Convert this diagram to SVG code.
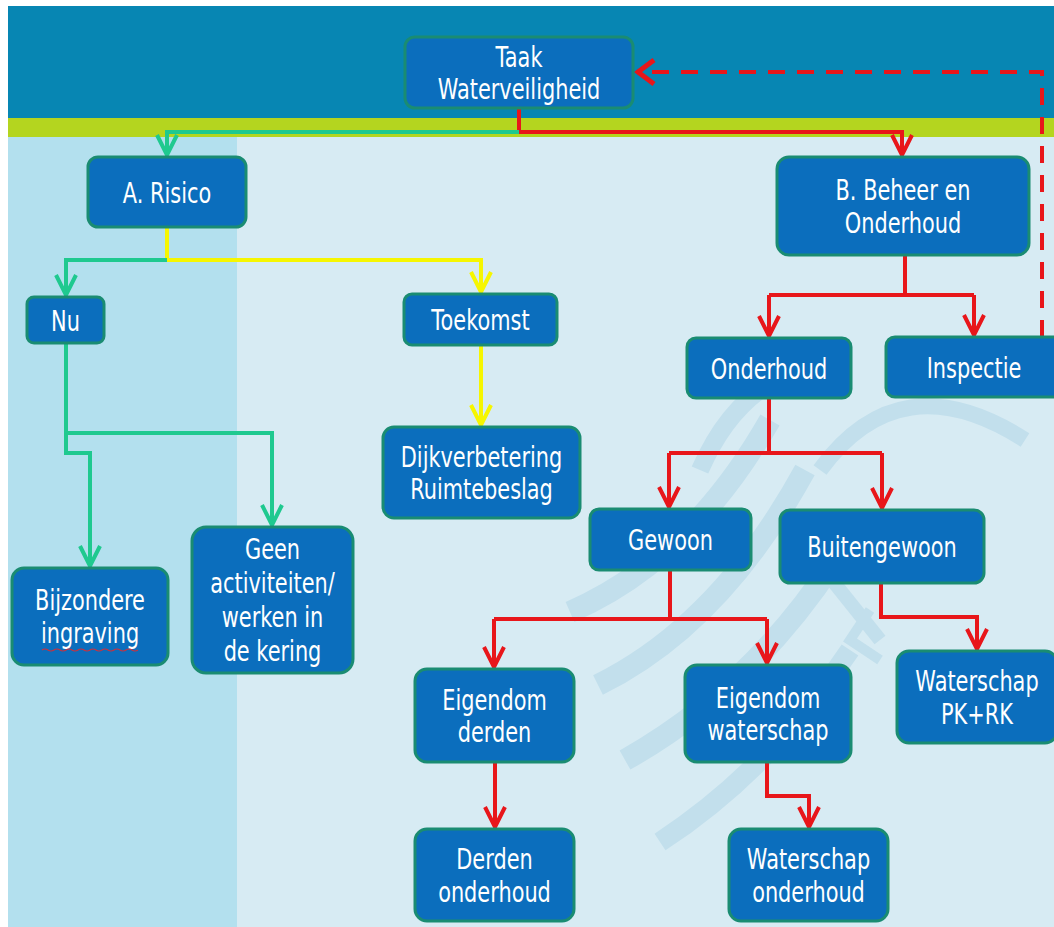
<svg xmlns="http://www.w3.org/2000/svg" width="1054" height="927" viewBox="0 0 1054 927">
<style>
.node rect{fill:#0B6EBD;stroke:#1A8C72;stroke-width:3}
.t{font-family:"DejaVu Sans","Liberation Sans",sans-serif;font-size:29px;fill:#FFFFFF;text-anchor:middle}
.c{fill:none;stroke-width:4;stroke-linejoin:miter}
.red{stroke:#E8161A}
.grn{stroke:#1FC98F}
.yel{stroke:#F6F600}
.wm{fill:none;stroke:#C2DFEC;stroke-linecap:butt}
</style>
<defs>
<marker id="ar" markerUnits="userSpaceOnUse" markerWidth="30" markerHeight="30" refX="0" refY="0" viewBox="-24 -15 30 30" orient="auto" overflow="visible"><path d="M-20,-10 L0,0 L-20,10" fill="none" stroke="#E8161A" stroke-width="4"/></marker>
<marker id="ag" markerUnits="userSpaceOnUse" markerWidth="30" markerHeight="30" refX="0" refY="0" viewBox="-24 -15 30 30" orient="auto" overflow="visible"><path d="M-20,-10 L0,0 L-20,10" fill="none" stroke="#1FC98F" stroke-width="4"/></marker>
<marker id="ay" markerUnits="userSpaceOnUse" markerWidth="30" markerHeight="30" refX="0" refY="0" viewBox="-24 -15 30 30" orient="auto" overflow="visible"><path d="M-20,-10 L0,0 L-20,10" fill="none" stroke="#F6F600" stroke-width="4"/></marker>
<marker id="ad" markerUnits="userSpaceOnUse" markerWidth="30" markerHeight="30" refX="0" refY="0" viewBox="-24 -15 30 30" orient="auto" overflow="visible"><path d="M-16,-12 L0,0 L-16,12" fill="none" stroke="#E8161A" stroke-width="5"/></marker>
</defs>

<g id="background">
<rect x="0" y="0" width="1054" height="927" fill="#FFFFFF"/>
<rect x="8" y="6" width="1046" height="112" fill="#0786B3"/>
<rect x="8" y="118" width="1046" height="19" fill="#B4D51F"/>
<rect x="8" y="137" width="1046" height="790" fill="#D7EBF3"/>
<rect x="8" y="137" width="229" height="790" fill="#B3E0EE"/>
<path class="wm" stroke-width="16" d="M820,470 Q900,360 1025,440"/>
<path class="wm" stroke-width="18" d="M700,470 Q735,390 800,370"/>
<path class="wm" stroke-width="22" d="M570,612 Q690,560 770,420"/>
<path class="wm" stroke-width="22" d="M598,685 Q720,625 805,470"/>
<path class="wm" stroke-width="22" d="M625,760 Q750,690 835,560"/>
<path class="wm" stroke-width="20" d="M660,842 Q770,770 850,650"/>
<path class="wm" stroke-width="14" d="M800,540 L880,640"/>
<path class="wm" stroke-width="10" d="M870,610 L850,640 L880,660"/>
</g>

<g id="connectors">
<path class="c red" d="M519,108 V132 H902 V155" marker-end="url(#ar)"/>
<path class="c grn" d="M519,132 H167 V155" marker-end="url(#ag)"/>
<path class="c yel" d="M167,227 V260"/>
<path class="c grn" d="M167,260 H66 V295" marker-end="url(#ag)"/>
<path class="c yel" d="M167,260 H481 V292" marker-end="url(#ay)"/>
<path class="c yel" d="M481,345 V425" marker-end="url(#ay)"/>
<path class="c grn" d="M66,343 V433 H272 V525" marker-end="url(#ag)"/>
<path class="c grn" d="M66,433 V453 H90 V566" marker-end="url(#ag)"/>
<path class="c red" d="M905,255 V295"/>
<path class="c red" d="M769,295 H974"/>
<path class="c red" d="M769,295 V336" marker-end="url(#ar)"/>
<path class="c red" d="M974,295 V335" marker-end="url(#ar)"/>
<path class="c red" d="M769,398 V453"/>
<path class="c red" d="M669,453 H882"/>
<path class="c red" d="M669,453 V507" marker-end="url(#ar)"/>
<path class="c red" d="M882,453 V508" marker-end="url(#ar)"/>
<path class="c red" d="M670,570 V618"/>
<path class="c red" d="M494,619 H767"/>
<path class="c red" d="M494,619 V667" marker-end="url(#ar)"/>
<path class="c red" d="M767,619 V663" marker-end="url(#ar)"/>
<path class="c red" d="M881,583 V617 H977 V649" marker-end="url(#ar)"/>
<path class="c red" d="M495,762 V827" marker-end="url(#ar)"/>
<path class="c red" d="M767,762 V796 H809 V827" marker-end="url(#ar)"/>
<path class="c red" d="M1042,337 V72 H638" stroke-width="5" stroke-dasharray="17 12" marker-end="url(#ad)"/>
</g>

<g id="n-taak" class="node"><rect x="405" y="37" width="228" height="71" rx="10"/><text class="t" transform="translate(519,66.5) scale(0.72,1)"><tspan x="0">Taak</tspan><tspan x="0" dy="33">Waterveiligheid</tspan></text></g>
<g id="n-risico" class="node"><rect x="88" y="157" width="158" height="70" rx="10"/><text class="t" transform="translate(167,202.5) scale(0.72,1)">A. Risico</text></g>
<g id="n-beheer" class="node"><rect x="777" y="157" width="252" height="98" rx="12"/><text class="t" transform="translate(903,200) scale(0.72,1)"><tspan x="0">B. Beheer en</tspan><tspan x="0" dy="33">Onderhoud</tspan></text></g>
<g id="n-nu" class="node"><rect x="27" y="297" width="77" height="46" rx="7"/><text class="t" transform="translate(65.5,330.5) scale(0.72,1)">Nu</text></g>
<g id="n-toekomst" class="node"><rect x="404" y="294" width="153" height="51" rx="8"/><text class="t" transform="translate(480.5,330) scale(0.72,1)">Toekomst</text></g>
<g id="n-onderhoud" class="node"><rect x="687" y="338" width="164" height="60" rx="9"/><text class="t" transform="translate(769,378.5) scale(0.72,1)">Onderhoud</text></g>
<g id="n-inspectie" class="node"><rect x="886" y="337" width="176" height="60" rx="9"/><text class="t" transform="translate(974,377.5) scale(0.72,1)">Inspectie</text></g>
<g id="n-dijk" class="node"><rect x="383" y="427" width="197" height="91" rx="11"/><text class="t" transform="translate(481.5,466.5) scale(0.72,1)"><tspan x="0">Dijkverbetering</tspan><tspan x="0" dy="33">Ruimtebeslag</tspan></text></g>
<g id="n-bijzondere" class="node"><rect x="12" y="568" width="156" height="97" rx="12"/><text class="t" transform="translate(90,610) scale(0.72,1)"><tspan x="0">Bijzondere</tspan><tspan x="0" dy="33">ingraving</tspan></text><path d="M42,650 q3,-2 6,0 t6,0 t6,0 t6,0 t6,0 t6,0 t6,0 t6,0 t6,0 t6,0 t6,0 t6,0 t6,0 t6,0 t6,0 t6,0" fill="none" stroke="#D0303A" stroke-width="1.2"/></g>
<g id="n-geen" class="node"><rect x="192" y="527" width="161" height="146" rx="14"/><text class="t" transform="translate(272.5,559) scale(0.72,1)"><tspan x="0">Geen</tspan><tspan x="0" dy="34">activiteiten/</tspan><tspan x="0" dy="34">werken in</tspan><tspan x="0" dy="34">de kering</tspan></text></g>
<g id="n-gewoon" class="node"><rect x="590" y="509" width="161" height="61" rx="9"/><text class="t" transform="translate(670.5,550) scale(0.72,1)">Gewoon</text></g>
<g id="n-buitengewoon" class="node"><rect x="780" y="510" width="204" height="73" rx="10"/><text class="t" transform="translate(882,557) scale(0.72,1)">Buitengewoon</text></g>
<g id="n-eigderden" class="node"><rect x="415" y="669" width="159" height="93" rx="12"/><text class="t" transform="translate(494.5,709.5) scale(0.72,1)"><tspan x="0">Eigendom</tspan><tspan x="0" dy="33">derden</tspan></text></g>
<g id="n-eigwaterschap" class="node"><rect x="685" y="665" width="166" height="97" rx="12"/><text class="t" transform="translate(768,707.5) scale(0.72,1)"><tspan x="0">Eigendom</tspan><tspan x="0" dy="33">waterschap</tspan></text></g>
<g id="n-wspkrk" class="node"><rect x="897" y="651" width="160" height="92" rx="12"/><text class="t" transform="translate(977,691) scale(0.72,1)"><tspan x="0">Waterschap</tspan><tspan x="0" dy="33">PK+RK</tspan></text></g>
<g id="n-derdenond" class="node"><rect x="415" y="829" width="159" height="92" rx="12"/><text class="t" transform="translate(494.5,869) scale(0.72,1)"><tspan x="0">Derden</tspan><tspan x="0" dy="33">onderhoud</tspan></text></g>
<g id="n-wsond" class="node"><rect x="729" y="829" width="159" height="92" rx="12"/><text class="t" transform="translate(808.5,869) scale(0.72,1)"><tspan x="0">Waterschap</tspan><tspan x="0" dy="33">onderhoud</tspan></text></g>
</svg>
